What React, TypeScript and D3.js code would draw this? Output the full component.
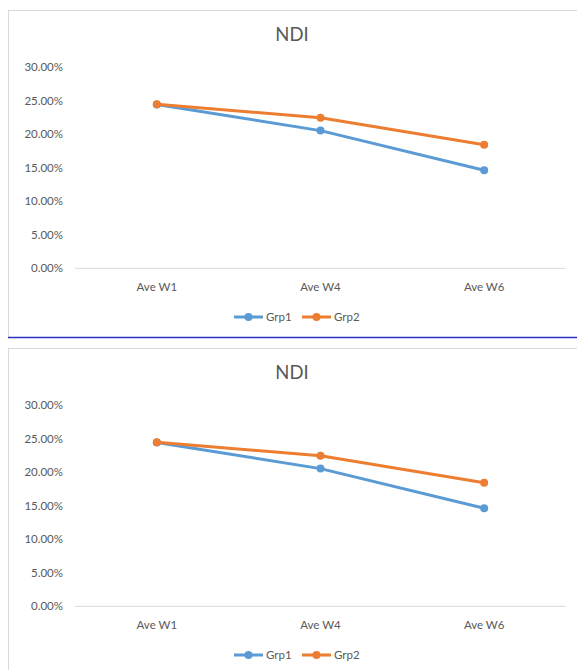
import React from "react";
import * as d3 from "d3";

const categories = ["Ave W1", "Ave W4", "Ave W6"];
const grp1 = [0.2445, 0.2055, 0.1463];
const grp2 = [0.2448, 0.2248, 0.1845];
const yTicks = [0, 0.05, 0.1, 0.15, 0.2, 0.25, 0.3];
const seriesNames = ["Grp1", "Grp2"];
const colors = ["#5B9BD5", "#ED7D31"];
const title = "NDI";

const FONT = "Lato, 'Open Sans', sans-serif";
const TEXT = "#595959";

function Chart({ top }: { top: number }) {
  const x = d3.scaleBand<string>().domain(categories).range([75, 566]);
  const y = d3.scaleLinear().domain([0, 0.3]).range([268.3, 67.3]);
  const line = d3
    .line<number>()
    .x((_, i) => (x(categories[i]) as number) + x.bandwidth() / 2)
    .y((d) => y(d));
  const series = [grp1, grp2];
  const fmt = d3.format(".2%");
  return (
    <g transform={`translate(0,${top})`}>
      <text x={292} y={41} textAnchor="middle" fontFamily={FONT} fontSize={18.5} fill={TEXT}>
        {title}
      </text>
      {yTicks.map((t) => (
        <text key={t} x={63} y={y(t)} dy="0.35em" textAnchor="end" fontFamily={FONT} fontSize={11.5} fill={TEXT}>
          {fmt(t)}
        </text>
      ))}
      <line x1={75} x2={566} y1={y(0)} y2={y(0)} stroke="#d9d9d9" strokeWidth={1} />
      {categories.map((c) => (
        <text key={c} x={(x(c) as number) + x.bandwidth() / 2} y={287} dy="0.35em" textAnchor="middle" fontFamily={FONT} fontSize={11.5} fill={TEXT}>
          {c}
        </text>
      ))}
      {series.map((s, si) => (
        <g key={si}>
          <path d={line(s) || ""} fill="none" stroke={colors[si]} strokeWidth={3} strokeLinejoin="round" strokeLinecap="round" />
          {s.map((v, i) => (
            <circle key={i} cx={(x(categories[i]) as number) + x.bandwidth() / 2} cy={y(v)} r={4} fill={colors[si]} />
          ))}
        </g>
      ))}
      {seriesNames.map((n, i) => {
        const lx = 234 + i * 68;
        return (
          <g key={n}>
            <line x1={lx} x2={lx + 29} y1={317} y2={317} stroke={colors[i]} strokeWidth={3} />
            <circle cx={lx + 14.5} cy={317} r={4} fill={colors[i]} />
            <text x={lx + 32} y={317} dy="0.35em" fontFamily={FONT} fontSize={11.5} fill={TEXT}>
              {n}
            </text>
          </g>
        );
      })}
    </g>
  );
}

export default function App() {
  return (
    <svg width={577} height={670} style={{ position: "absolute", left: 0, top: 0, background: "#fff" }}>
      <rect x={0} y={0} width={577} height={670} fill="#fff" />
      <rect x={8.5} y={10.5} width={580} height={327} fill="none" stroke="#d9d9d9" strokeWidth={1} />
      <line x1={8} x2={577} y1={337.5} y2={337.5} stroke="#2f2fc8" strokeWidth={1.5} />
      <rect x={8.5} y={348.5} width={580} height={340} fill="none" stroke="#d9d9d9" strokeWidth={1} />
      <Chart top={0} />
      <Chart top={338} />
    </svg>
  );
}
